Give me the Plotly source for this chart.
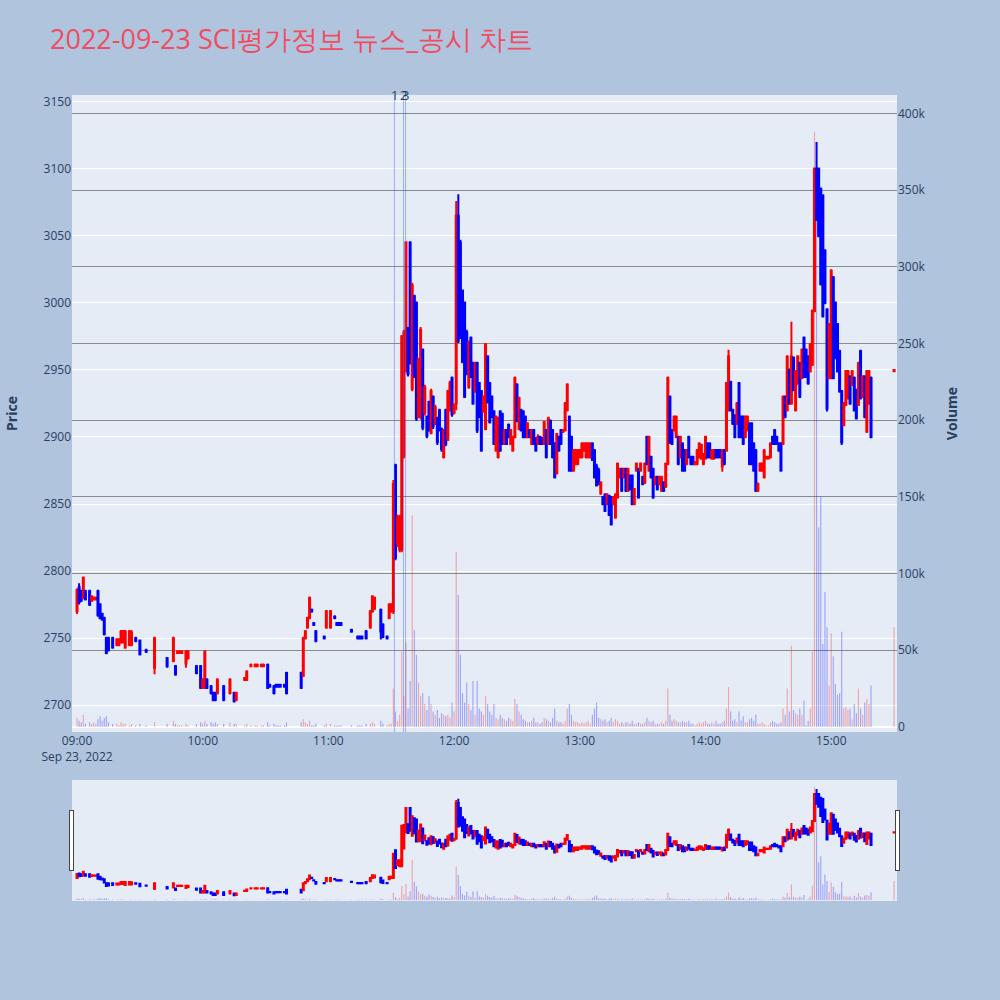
import plotly.graph_objects as go
import pandas as pd

DATE = "2022-09-23"
TITLE = "2022-09-23 SCI평가정보 뉴스_공시 차트"

times = [
    "09:00","09:01","09:02","09:03","09:04","09:06","09:07","09:08","09:09","09:10",
    "09:11","09:12","09:13","09:14","09:15","09:17","09:19","09:20","09:21","09:22",
    "09:23","09:25","09:26","09:28","09:30","09:33","09:37","09:43","09:46","09:47",
    "09:48","09:49","09:50","09:52","09:53","09:57","09:59","10:00","10:01","10:02",
    "10:04","10:05","10:06","10:07","10:10","10:13","10:15","10:16","10:20","10:21",
    "10:23","10:25","10:26","10:28","10:29","10:31","10:32","10:34","10:35","10:36",
    "10:37","10:39","10:40","10:47","10:48","10:49","10:50","10:51","10:52","10:53",
    "10:54","10:58","10:59","11:01","11:03","11:04","11:05","11:06","11:11","11:14",
    "11:15","11:16","11:18","11:20","11:21","11:22","11:25","11:26","11:28","11:29",
    "11:30","11:31","11:32","11:33","11:34","11:35","11:36","11:37","11:38","11:39",
    "11:40","11:41","11:42","11:43","11:44","11:45","11:46","11:47","11:48","11:49",
    "11:50","11:51","11:52","11:53","11:54","11:55","11:56","11:57","11:58","11:59",
    "12:00","12:01","12:02","12:03","12:04","12:05","12:06","12:07","12:08","12:09",
    "12:10","12:11","12:12","12:13","12:14","12:15","12:16","12:17","12:18","12:19",
    "12:20","12:21","12:22","12:23","12:24","12:25","12:26","12:27","12:28","12:29",
    "12:30","12:31","12:32","12:33","12:34","12:35","12:36","12:37","12:38","12:39",
    "12:40","12:41","12:42","12:43","12:44","12:45","12:46","12:47","12:48","12:49",
    "12:50","12:51","12:52","12:53","12:54","12:55","12:56","12:57","12:58","12:59",
    "13:00","13:01","13:02","13:03","13:04","13:05","13:06","13:07","13:08","13:09",
    "13:10","13:11","13:12","13:13","13:14","13:15","13:16","13:17","13:18","13:19",
    "13:20","13:21","13:22","13:23","13:24","13:25","13:26","13:27","13:28","13:29",
    "13:30","13:31","13:32","13:33","13:34","13:35","13:36","13:37","13:38","13:39",
    "13:40","13:41","13:42","13:43","13:44","13:45","13:46","13:47","13:48","13:49",
    "13:50","13:51","13:52","13:53","13:54","13:55","13:56","13:57","13:58","13:59",
    "14:00","14:01","14:02","14:03","14:04","14:05","14:06","14:07","14:08","14:09",
    "14:10","14:11","14:12","14:13","14:14","14:15","14:16","14:17","14:18","14:19",
    "14:20","14:21","14:22","14:23","14:24","14:25","14:26","14:27","14:28","14:29",
    "14:30","14:31","14:32","14:33","14:34","14:35","14:36","14:37","14:38","14:39",
    "14:40","14:41","14:42","14:43","14:44","14:45","14:46","14:47","14:48","14:49",
    "14:50","14:51","14:52","14:53","14:54","14:55","14:56","14:57","14:58","14:59",
    "15:00","15:01","15:02","15:03","15:04","15:05","15:06","15:07","15:08","15:09",
    "15:10","15:11","15:12","15:13","15:14","15:15","15:16","15:17","15:18","15:19",
    "15:30",
]

opens = [
    2770,2788,2785,2780,2785,2785,2778,2779,2779,2785,
    2775,2768,2765,2750,2750,2750,2745,2745,2747,2747,
    2743,2745,2745,2750,2748,2741,2728,2735,2733,2729,
    2739,2739,2739,2731,2735,2729,2729,2713,2713,2719,
    2714,2709,2709,2709,2714,2709,2709,2704,2719,2719,
    2729,2729,2729,2729,2729,2730,2715,2714,2715,2715,
    2715,2715,2724,2724,2722,2750,2758,2765,2771,2761,
    2755,2751,2758,2758,2766,2761,2761,2761,2756,2751,
    2751,2751,2755,2758,2770,2772,2771,2760,2751,2765,
    2770,2770,2879,2821,2816,2816,2886,2950,2981,3045,
    2936,3005,3000,2915,2915,2965,2918,2915,2926,2903,
    2930,2910,2914,2920,2906,2885,2920,2898,2920,2944,
    2918,2925,3065,3045,3009,3000,2978,2937,2974,2955,
    2934,2955,2940,2934,2919,2906,2960,2940,2930,2919,
    2890,2885,2919,2917,2895,2905,2909,2895,2890,2900,
    2939,2906,2920,2919,2915,2900,2905,2895,2905,2899,
    2895,2900,2899,2895,2905,2895,2912,2905,2895,2873,
    2900,2905,2904,2905,2920,2915,2900,2875,2880,2880,
    2885,2885,2890,2885,2885,2885,2895,2890,2878,2875,
    2858,2855,2857,2850,2856,2855,2850,2840,2855,2870,
    2876,2870,2876,2860,2871,2871,2850,2875,2876,2875,
    2870,2866,2900,2875,2885,2876,2865,2870,2865,2860,
    2866,2863,2880,2930,2905,2905,2900,2900,2885,2895,
    2890,2880,2900,2885,2885,2880,2880,2885,2884,2880,
    2884,2895,2895,2884,2884,2890,2890,2890,2878,2890,
    2890,2920,2941,2920,2916,2910,2940,2915,2915,2900,
    2905,2910,2910,2895,2890,2860,2875,2875,2870,2884,
    2884,2885,2900,2905,2900,2895,2895,2895,2930,2920,
    2950,2925,2959,2920,2940,2955,2944,2974,2965,2960,
    2949,2954,2994,3100,3100,3085,3080,3039,2995,2944,
    2944,3019,3000,2984,2964,2934,2909,2924,2929,2945,
    2939,2944,2935,2924,2964,2930,2945,2904,2925,2944,
    2949,
]

highs = [
    2787,2791,2786,2796,2786,2786,2782,2781,2781,2786,
    2776,2769,2766,2751,2751,2751,2750,2750,2756,2756,
    2756,2756,2756,2751,2749,2742,2751,2736,2751,2730,
    2741,2741,2741,2741,2741,2730,2730,2720,2741,2720,
    2715,2710,2710,2720,2715,2720,2710,2710,2721,2726,
    2731,2731,2731,2731,2731,2731,2716,2715,2716,2716,
    2716,2716,2725,2725,2751,2756,2766,2781,2772,2762,
    2756,2752,2771,2771,2767,2762,2762,2762,2757,2752,
    2752,2752,2756,2771,2782,2781,2772,2761,2752,2776,
    2776,2868,2880,2842,2842,2976,2980,3046,2982,3046,
    3015,3006,3001,2959,2982,2966,2939,2916,2927,2936,
    2931,2924,2915,2921,2907,2906,2921,2935,2942,2945,
    2925,3076,3081,3047,3010,3001,2980,2972,2975,2956,
    2956,2956,2941,2935,2931,2970,2961,2941,2931,2920,
    2916,2915,2920,2918,2906,2906,2910,2906,2901,2945,
    2940,2930,2921,2920,2916,2911,2906,2906,2906,2900,
    2902,2901,2900,2912,2906,2915,2913,2906,2896,2903,
    2901,2906,2906,2926,2940,2916,2901,2891,2891,2891,
    2891,2896,2896,2896,2896,2896,2896,2891,2880,2877,
    2867,2856,2858,2858,2857,2856,2856,2858,2881,2877,
    2877,2877,2877,2877,2872,2872,2862,2881,2877,2881,
    2871,2881,2901,2901,2886,2877,2871,2871,2871,2871,
    2867,2881,2945,2931,2906,2916,2916,2901,2901,2896,
    2891,2891,2901,2886,2886,2882,2891,2896,2895,2888,
    2901,2896,2896,2891,2891,2891,2891,2891,2891,2891,
    2941,2965,2942,2921,2917,2926,2941,2916,2916,2916,
    2916,2911,2911,2896,2891,2866,2881,2881,2891,2886,
    2886,2896,2901,2906,2901,2896,2896,2931,2931,2961,
    2951,2986,2960,2950,2961,2956,2966,2975,2966,2961,
    2970,2995,3101,3120,3101,3086,3081,3040,2996,2985,
    3025,3020,3001,2985,2965,2935,2926,2950,2950,2946,
    2950,2945,2936,2956,2965,2946,2946,2950,2950,2945,
    2950,
]

lows = [
    2768,2775,2777,2779,2778,2774,2777,2778,2778,2766,
    2764,2763,2752,2738,2740,2742,2744,2744,2746,2746,
    2742,2744,2744,2747,2737,2739,2723,2728,2732,2722,
    2739,2739,2739,2728,2734,2723,2712,2712,2712,2712,
    2708,2703,2703,2708,2703,2708,2702,2703,2718,2718,
    2729,2729,2729,2729,2729,2712,2713,2708,2713,2713,
    2713,2713,2708,2712,2721,2749,2757,2764,2769,2759,
    2747,2749,2757,2757,2764,2759,2759,2759,2754,2749,
    2749,2749,2749,2757,2769,2771,2749,2750,2749,2764,
    2769,2768,2808,2818,2814,2814,2884,2948,2945,2954,
    2934,2944,2912,2914,2913,2905,2916,2899,2904,2902,
    2906,2909,2894,2904,2889,2884,2893,2897,2919,2915,
    2917,2920,2970,2973,2955,2929,2946,2936,2944,2924,
    2933,2903,2914,2889,2918,2905,2925,2910,2914,2894,
    2889,2884,2889,2894,2894,2894,2899,2894,2889,2899,
    2911,2905,2904,2899,2899,2899,2899,2894,2894,2889,
    2894,2894,2894,2894,2884,2894,2894,2884,2869,2872,
    2889,2894,2903,2904,2919,2874,2874,2874,2879,2879,
    2884,2884,2889,2884,2884,2884,2882,2869,2863,2864,
    2857,2849,2844,2849,2841,2834,2849,2839,2854,2869,
    2859,2869,2859,2859,2860,2849,2849,2874,2854,2874,
    2864,2865,2879,2874,2869,2854,2864,2860,2864,2859,
    2859,2862,2879,2895,2894,2904,2899,2879,2884,2874,
    2874,2879,2884,2879,2879,2879,2879,2884,2883,2879,
    2883,2884,2884,2883,2883,2884,2884,2884,2874,2879,
    2889,2919,2919,2909,2899,2909,2899,2899,2894,2899,
    2904,2879,2879,2874,2859,2859,2874,2874,2869,2884,
    2884,2884,2894,2894,2894,2889,2874,2894,2914,2919,
    2924,2924,2934,2919,2939,2929,2943,2944,2944,2939,
    2948,2953,2993,3061,3049,3013,2989,2999,2919,2943,
    2943,2943,2958,2948,2933,2894,2908,2923,2928,2924,
    2938,2919,2913,2923,2928,2929,2914,2903,2924,2899,
    2949,
]

closes = [
    2786,2777,2778,2795,2779,2775,2781,2780,2780,2767,
    2765,2764,2753,2739,2741,2743,2749,2749,2755,2755,
    2755,2755,2754,2748,2738,2740,2750,2729,2750,2723,
    2740,2740,2740,2740,2740,2724,2713,2719,2740,2713,
    2709,2704,2704,2719,2704,2719,2703,2709,2720,2725,
    2730,2730,2730,2730,2730,2713,2714,2709,2714,2714,
    2714,2714,2709,2713,2750,2755,2765,2780,2770,2760,
    2748,2750,2770,2770,2765,2760,2760,2760,2755,2750,
    2750,2750,2750,2770,2781,2780,2755,2751,2750,2775,
    2775,2865,2810,2840,2840,2975,2978,3045,2947,2956,
    3013,2946,2914,2957,2980,2907,2937,2901,2906,2934,
    2908,2922,2896,2906,2891,2905,2895,2934,2940,2917,
    2924,3065,2972,2975,2956,2930,2947,2970,2945,2925,
    2955,2905,2915,2890,2930,2969,2926,2911,2915,2895,
    2915,2914,2890,2895,2905,2895,2900,2905,2900,2944,
    2912,2929,2905,2900,2900,2910,2900,2905,2895,2890,
    2900,2895,2895,2911,2885,2914,2895,2885,2870,2902,
    2890,2895,2905,2925,2939,2875,2875,2890,2890,2890,
    2890,2895,2895,2895,2895,2895,2883,2870,2864,2865,
    2866,2850,2845,2857,2842,2835,2855,2857,2880,2876,
    2860,2876,2860,2876,2861,2850,2861,2880,2855,2880,
    2865,2880,2880,2900,2870,2855,2870,2861,2870,2870,
    2860,2880,2944,2896,2895,2915,2915,2880,2900,2875,
    2875,2890,2885,2880,2880,2881,2890,2895,2894,2887,
    2900,2885,2885,2890,2890,2885,2885,2885,2888,2880,
    2940,2960,2920,2910,2900,2925,2900,2900,2895,2915,
    2915,2880,2880,2875,2860,2865,2880,2880,2890,2885,
    2885,2895,2895,2895,2895,2890,2875,2930,2915,2960,
    2925,2960,2935,2949,2960,2930,2965,2945,2945,2940,
    2969,2994,3100,3062,3050,3014,2990,3000,2921,2984,
    3024,2944,2959,2949,2934,2896,2925,2949,2949,2925,
    2949,2920,2914,2955,2929,2945,2915,2949,2949,2900,
    2950,
]

volumes = [
    6000,4000,3000,8000,2000,3000,2000,3000,2000,5000,
    7000,4000,6000,7000,3000,2000,2000,1000,3000,2000,
    2000,1000,2000,1000,2000,1000,3000,2000,4000,2000,
    1000,1000,1000,2000,1000,2000,3000,2000,4000,2000,
    3000,2000,3000,2000,2000,3000,2000,2000,1000,2000,
    1000,1000,1000,1000,1000,3000,1000,2000,1000,1000,
    1000,1000,3000,3000,5000,3000,2000,4000,1000,1000,
    2000,1000,2000,2000,1000,1000,1000,1000,1000,1000,
    1000,1000,2000,2000,3000,2000,4000,2000,1000,2000,
    2000,25000,10000,4000,8000,49000,20000,55000,12000,30000,
    138000,63000,47000,29000,20000,22000,15000,11000,20000,15000,
    10000,8000,11000,6000,9000,8000,7000,8000,6000,16000,
    10000,114000,86000,47000,22000,16000,29000,15000,11000,30000,
    8000,30000,12000,10000,8000,20000,15000,10000,8000,15000,
    6000,5000,8000,6000,5000,4000,6000,5000,4000,18000,
    15000,10000,8000,5000,4000,3000,3000,4000,6000,3000,
    3000,2000,3000,6000,5000,4000,3000,6000,12000,4000,
    3000,3000,2000,4000,12000,15000,8000,4000,3000,3000,
    2000,3000,2000,3000,4000,2000,8000,12000,16000,6000,
    5000,4000,5000,3000,4000,6000,3000,5000,4000,2000,
    3000,2000,3000,3000,2000,4000,2000,2000,3000,2000,
    2000,3000,6000,4000,3000,4000,2000,2000,2000,3000,
    2000,4000,25000,8000,4000,5000,4000,3000,3000,4000,
    3000,3000,4000,2000,2000,1000,2000,3000,2000,3000,
    4000,2000,2000,3000,2000,4000,2000,2000,3000,4000,
    12000,26000,10000,4000,5000,3000,10000,4000,7000,3000,
    3000,5000,6000,4000,8000,2000,2000,3000,2000,1000,
    1000,3000,4000,3000,2000,2000,3000,12000,8000,25000,
    10000,53000,11000,9000,8000,12000,8000,17000,1000,4000,
    12000,49000,388000,380000,130000,150000,54000,88000,65000,27000,
    61000,46000,28000,21000,22000,62000,12000,13000,11000,12000,
    5000,15000,9000,25000,12000,8000,16000,18000,15000,27000,
    65000,
]

news_times = ["11:31:30", "11:35:50", "11:36:50"]
news_labels = ["1", "2", "3"]

assert len(times) == len(opens) == len(highs) == len(lows) == len(closes) == len(volumes), (
    len(times), len(opens), len(highs), len(lows), len(closes), len(volumes))

x = pd.to_datetime([f"{DATE} {t}" for t in times])
vol_colors = ["rgba(255,0,0,0.3)" if c > o else "rgba(0,0,255,0.3)" for o, c in zip(opens, closes)]

fig = go.Figure()
fig.add_trace(go.Candlestick(
    x=x, open=opens, high=highs, low=lows, close=closes,
    increasing=dict(line=dict(color="#FF0000", width=2), fillcolor="#FF0000"),
    decreasing=dict(line=dict(color="#0000FF", width=2), fillcolor="#0000FF"),
    showlegend=False, name="Price",
))
fig.add_trace(go.Bar(
    x=x, y=volumes, marker=dict(color=vol_colors, line=dict(width=0)),
    yaxis="y2", showlegend=False, name="Volume",
))

for t, lab in zip(news_times, news_labels):
    xt = f"{DATE} {t}"
    fig.add_shape(type="line", xref="x", yref="paper", x0=xt, x1=xt, y0=0, y1=1,
                  line=dict(color="rgba(65,105,225,0.45)", width=1))
    fig.add_annotation(x=xt, y=1, xref="x", yref="paper", text=lab, showarrow=False,
                       xanchor="center", yanchor="middle",
                       font=dict(size=13, color="#2a3f5f"))

xr = [f"{DATE} 08:57:36", f"{DATE} 15:31:24"]
fig.update_layout(
    width=1000, height=1000,
    paper_bgcolor="#B0C4DE",
    plot_bgcolor="#E5ECF6",
    title=dict(text=TITLE, x=0.05, xanchor="left", y=0.96, yanchor="middle",
               font=dict(size=27, color="#EE4D62")),
    margin=dict(l=70, r=103, t=95, b=100),
    showlegend=False,
    bargap=0.45,
    xaxis=dict(type="date", range=xr,
               rangeslider=dict(visible=True, thickness=0.15, range=xr)),
    yaxis=dict(title=dict(text="<b>Price</b>", standoff=22), range=[2680, 3155], dtick=50,
               gridcolor="white"),
    yaxis2=dict(title=dict(text="<b>Volume</b>", standoff=22), overlaying="y", side="right",
                range=[-3300, 412000], dtick=50000, showgrid=True,
                gridcolor="rgba(128,128,128,0.9)", zeroline=True, zerolinecolor="white"),
)

fig.write_html("out.html", config={"displayModeBar": False},
               post_script="document.body.style.margin='0';")
